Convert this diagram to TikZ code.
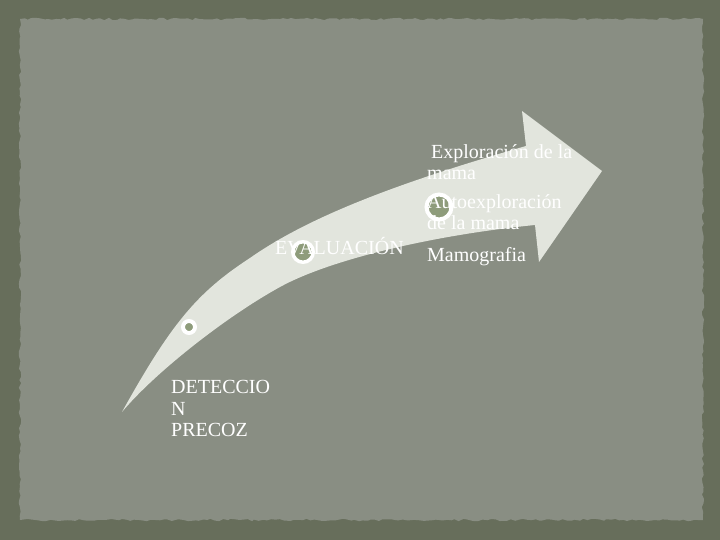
\documentclass[tikz,border=0pt]{standalone}
\usepackage{fontspec}
\setmainfont{Liberation Serif}
\usetikzlibrary{decorations.pathmorphing}

\definecolor{framegreen}{HTML}{676E5B}
\definecolor{papergray}{HTML}{898E83}
\definecolor{arrowfill}{HTML}{E2E5DD}
\definecolor{dotgreen}{HTML}{8E9C7B}

\tikzset{
  ring/.style={circle,draw=white,fill=dotgreen,inner sep=0pt},
  label/.style={anchor=base west,inner sep=0pt,align=left,text=white,
    font=\fontsize{20}{21}\selectfont}
}

\begin{document}
\begin{tikzpicture}[x=1pt,y=1pt]
					\useasboundingbox (0,0) rectangle (720,540);
					\fill[framegreen](0,0) rectangle (720,540);
					\pgfmathsetseed{7}
					\fill[papergray,decorate,decoration={random steps,segment length=4pt,amplitude=1.2pt}]
						(20,20) rectangle (703,521);

					% curved arrow
					\fill[arrowfill](122,128) .. controls (171.3,216.6) and (196.9,247.4) .. (250,282)
						.. controls (304.6,320.3) and (387.4,354.3) .. (526,394)
						-- (522,429) -- (602,369) -- (539,278) -- (535,315)
						.. controls (430.6,304.6) and (328.6,279.8) .. (280,253)
						.. controls (225.3,222.9) and (154.2,166.7) .. (122,128) -- cycle;

					\node[ring,line width=4pt,minimum size=12pt](dotdet) at (189,213){};
					\node[ring,line width=3.5pt,minimum size=20.5pt](doteval) at (303,288){};
					\node[ring,line width=4pt,minimum size=25pt](dotexpl) at (439,333){};

					% base = last line of each text
					\node[label,font=\fontsize{20}{21.5}\selectfont](deteccion) at (171,103){DETECCIO\\N\\PRECOZ};
					\node[label](evaluacion) at (275,285){EVALUACIÓN};
					\node[label](exploracion) at (427,360){\hspace*{4pt}Exploración de la\\mama};
					\node[label](autoexpl) at (427,310){Autoexploración\\de la mama};
					\node[label](mamografia) at (427,278){Mamografia};
\end{tikzpicture}
\end{document}
